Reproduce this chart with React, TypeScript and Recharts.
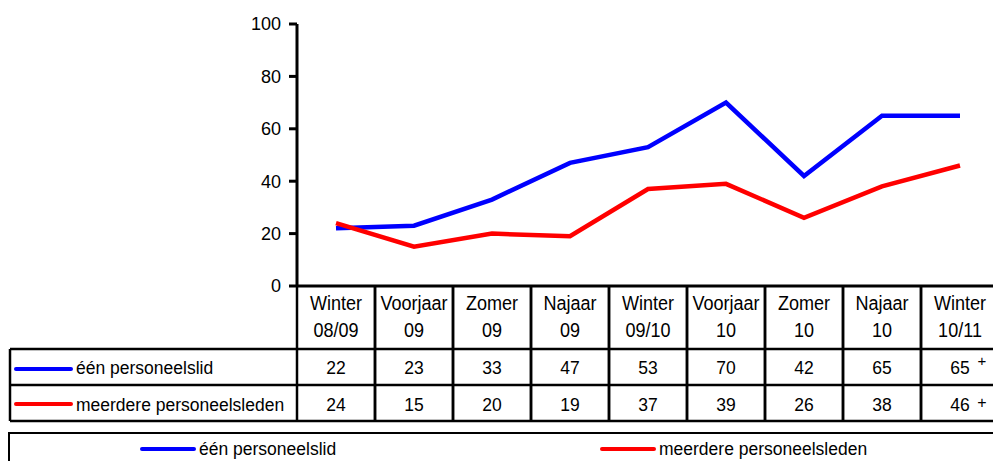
import { LineChart, Line, XAxis, YAxis, Legend } from 'recharts'

const seasons = ['Winter', 'Voorjaar', 'Zomer', 'Najaar', 'Winter', 'Voorjaar', 'Zomer', 'Najaar', 'Winter']
const years = ['08/09', '09', '09', '09', '09/10', '10', '10', '10', '10/11']
const eenPersoneelslid = [22, 23, 33, 47, 53, 70, 42, 65, 65]
const meerderePersoneelsleden = [24, 15, 20, 19, 37, 39, 26, 38, 46]
const footnotes = ['', '', '', '', '', '', '', '', '+']
const yTicks = [0, 20, 40, 60, 80, 100]

const seriesNames = ['één personeelslid', 'meerdere personeelsleden']
const BLUE = '#0000ff'
const RED = '#ff0000'
const FONT = '"Liberation Sans", Arial, sans-serif'
const FS = 17.5

const data = seasons.map((s, i) => ({
  name: `${s} ${years[i]}`,
  een: eenPersoneelslid[i],
  meerdere: meerderePersoneelsleden[i],
}))

const COL = 78
const HEAD_H = 63
const ROW_H = 36
const LABEL_LEFT = 10

// header labels in the reference are a bit taller than wide
function HeadText({ x, y, children }: { x: number; y: number; children: any }) {
  return (
    <text
      transform={`translate(${x},${y}) scale(0.86,1)`}
      x={0}
      y={0}
      fontFamily={FONT}
      fontSize={21}
      fill="#000"
      textAnchor="middle"
    >
      {children}
    </text>
  )
}

// each x tick draws one column of the data table under the chart
function TableTick(props: any) {
  const { x, y, index } = props
  const left = x - COL / 2
  const r1 = y + HEAD_H
  const r2 = r1 + ROW_H
  const r3 = r2 + ROW_H
  const line = { stroke: '#000', strokeWidth: 2.5 }
  const text = { fontFamily: FONT, fontSize: FS, fill: '#000', textAnchor: 'middle' as const }
  const plotLeft = x - COL / 2 - COL * index

  return (
    <g>
      <line x1={left} y1={y} x2={left} y2={r3} {...line} />
      <line x1={left + COL} y1={y} x2={left + COL} y2={r3} {...line} />
      <line x1={left} y1={r1} x2={left + COL} y2={r1} {...line} />
      <line x1={left} y1={r2} x2={left + COL} y2={r2} {...line} />
      <line x1={left} y1={r3} x2={left + COL} y2={r3} {...line} />
      <HeadText x={x} y={y + 24}>{seasons[index]}</HeadText>
      <HeadText x={x} y={y + 51}>{years[index]}</HeadText>
      <text x={x} y={r1 + 25} {...text}>{eenPersoneelslid[index]}</text>
      <text x={x} y={r2 + 26} {...text}>{meerderePersoneelsleden[index]}</text>
      {footnotes[index] && (
        <>
          <text x={x + 22} y={r1 + 17} {...text} fontSize={15}>{footnotes[index]}</text>
          <text x={x + 22} y={r2 + 23} {...text} fontSize={16}>{footnotes[index]}</text>
        </>
      )}
      {index === 0 && (
        <g>
          <line x1={LABEL_LEFT} y1={r1} x2={plotLeft} y2={r1} {...line} />
          <line x1={LABEL_LEFT} y1={r2} x2={plotLeft} y2={r2} {...line} />
          <line x1={LABEL_LEFT} y1={r3} x2={plotLeft} y2={r3} {...line} />
          <line x1={LABEL_LEFT} y1={r1} x2={LABEL_LEFT} y2={r3} {...line} />
          <line x1={16} y1={r1 + 20} x2={71} y2={r1 + 20} stroke={BLUE} strokeWidth={4} strokeLinecap="round" />
          <line x1={16} y1={r2 + 19} x2={71} y2={r2 + 19} stroke={RED} strokeWidth={4} strokeLinecap="round" />
          <text x={76} y={r1 + 25} fontFamily={FONT} fontSize={FS} fill="#000">{seriesNames[0]}</text>
          <text x={76} y={r2 + 26} fontFamily={FONT} fontSize={FS} fill="#000">{seriesNames[1]}</text>
        </g>
      )}
    </g>
  )
}

function LegendBox() {
  const item = (color: string, label: string, left: number) => (
    <div style={{ position: 'absolute', left, top: 4, display: 'flex', alignItems: 'center' }}>
      <span style={{ display: 'inline-block', width: 56, height: 4, borderRadius: 2, background: color, marginRight: 3 }} />
      <span style={{ fontFamily: FONT, fontSize: FS, color: '#000', lineHeight: '22px' }}>{label}</span>
    </div>
  )
  return (
    <div
      style={{
        position: 'relative',
        boxSizing: 'border-box',
        height: 29,
        width: 1000,
        border: '2.5px solid #000',
        borderBottom: 'none',
      }}
    >
      {item(BLUE, seriesNames[0], 130)}
      {item(RED, seriesNames[1], 590)}
    </div>
  )
}

export default function App() {
  return (
    <div style={{ position: 'fixed', left: 0, top: 0, width: 993, height: 461, overflow: 'hidden', background: '#fff' }}>
      <LineChart width={993} height={461} data={data} margin={{ top: 24, right: -6, bottom: 0, left: 250 }}>
        <XAxis
          dataKey="name"
          height={146}
          interval={0}
          padding={{ left: 39, right: 39 }}
          axisLine={{ stroke: '#000', strokeWidth: 3 }}
          tickLine={false}
          tickSize={0}
          tickMargin={0}
          tick={<TableTick />}
        />
        <YAxis
          width={47}
          domain={[0, 100]}
          ticks={yTicks}
          interval={0}
          axisLine={{ stroke: '#000', strokeWidth: 3 }}
          tickLine={{ stroke: '#000', strokeWidth: 3 }}
          tickSize={8}
          tickMargin={8}
          tick={{ fill: '#000', fontFamily: FONT, fontSize: 18 }}
        />
        <Legend
          verticalAlign="bottom"
          content={() => <LegendBox />}
          wrapperStyle={{ left: 8, width: 1000, bottom: 0 }}
        />
        <Line
          dataKey="een"
          name={seriesNames[0]}
          stroke={BLUE}
          strokeWidth={4.5}
          dot={false}
          isAnimationActive={false}
        />
        <Line
          dataKey="meerdere"
          name={seriesNames[1]}
          stroke={RED}
          strokeWidth={4.5}
          dot={false}
          isAnimationActive={false}
        />
      </LineChart>
    </div>
  )
}
